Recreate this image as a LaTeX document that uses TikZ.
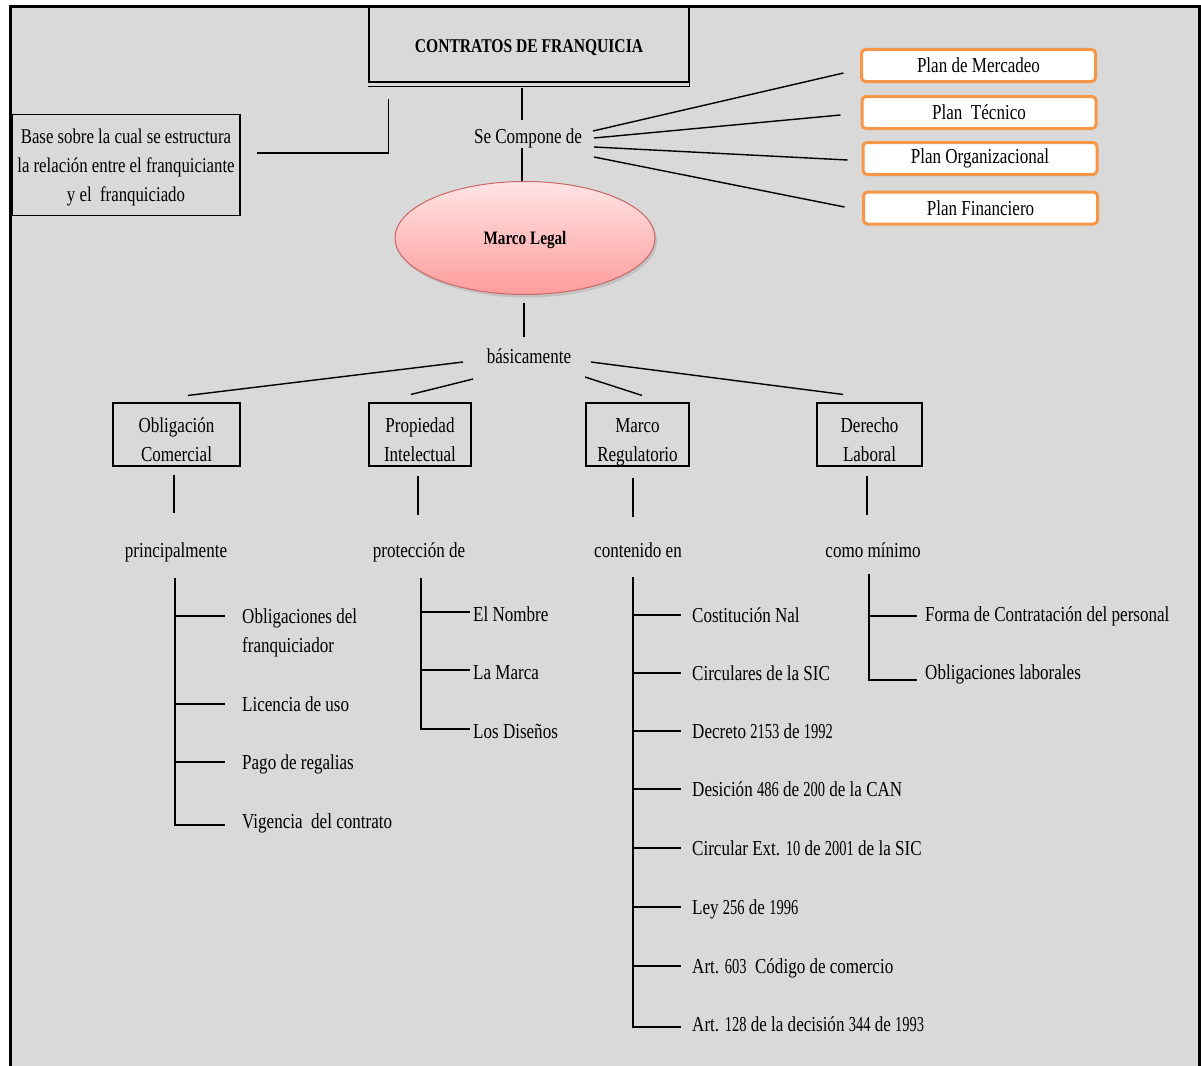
\documentclass[tikz,border=0pt]{standalone}
\usepackage{fontspec}
\setmainfont{Liberation Serif}[FakeStretch=0.8]
\newfontfamily\nf{Liberation Serif}[FakeStretch=0.68]
\usetikzlibrary{shapes.geometric,shadows,calc}
\definecolor{bg}{HTML}{D9D9D9}
\definecolor{orng}{HTML}{F79646}
\definecolor{pinktop}{HTML}{FFE4E4}
\definecolor{pinkbot}{HTML}{FF9C9C}
\definecolor{pinkedge}{HTML}{CC6666}
\newcommand\topstrut[1]{\rule{0pt}{#1}}
\newcommand\botstrut[1]{\rule[-#1]{0pt}{#1}}
\newcommand\num[1]{{\nf #1}}
\begin{document}
\begin{tikzpicture}[x=1pt,y=-1pt,
  every node/.style={inner sep=0pt},
  bodyfont/.style={font=\fontsize{21.3}{29}\selectfont},
  lbl/.style={bodyfont, text height=17pt, text depth=2pt},
  cbox/.style={draw, line width=1.1pt, bodyfont, align=center},
  plan/.style={draw=orng, line width=3pt, rounded corners=4pt, fill=white, minimum width=234pt, minimum height=32pt, bodyfont},
  ln/.style={line width=1.4pt},
  item/.style={lbl, anchor=west},
]
\clip (0,0) rectangle (1201,1065);
\fill[white] (0,0) rectangle (1201,1065);
\fill[bg] (10,7) rectangle (1199,1080);
\draw[line width=3pt] (10,1080) -- (10,7) -- (1199,7) -- (1199,1080);

% title
\node[draw, line width=1.2pt, minimum width=320pt, minimum height=75pt, font=\bfseries\fontsize{19.5}{24}\selectfont] (title) at (529,44.5) {\topstrut{19.5pt}CONTRATOS DE FRANQUICIA};
\draw[line width=1.3pt] ($(title.south west)+(0,4)$) -- ($(title.south east)+(0,4)$) -- (title.south east);

\node[lbl] (comp) at (528,136) {Se Compone de};
\draw[ln] ($(title.south)+(-7,5)$) -- ($(comp.north)+(-6,-6.5)$);

\node[ellipse, draw=pinkedge, line width=1pt, top color=pinktop, bottom color=pinkbot, minimum width=260pt, minimum height=113pt, drop shadow={opacity=0.25, shadow xshift=2pt, shadow yshift=-3pt}, font=\bfseries\fontsize{19}{24}\selectfont] (ml) at (525,238) {\topstrut{17.5pt}Marco Legal};
\draw[ln] ($(comp.south)+(-6,2.5)$) -- ($(ml.north)+(-3,0)$);

\node[lbl] (bas) at (529,356) {básicamente};
\draw[ln] ($(ml.south)+(-1,8)$) -- ($(bas.north)+(-5,-9.5)$);

% base box
\node[cbox, minimum width=228pt, minimum height=101pt, font=\fontsize{21}{29}\selectfont] (base) at (126,165) {\topstrut{20pt}Base sobre la cual se estructura\\la relación entre el franquiciante\\y el\ \ franquiciado\botstrut{5pt}};
\draw[ln] ($(base.east)+(16,-12)$) -| ($(title.south west)+(20,16)$);

% plans
\node[plan] (pm) at (978.5,65.5) {Plan de Mercadeo};
\node[plan] (pt) at (979,112.5) {Plan\ \ Técnico};
\node[plan] (po) at (980,158.5) {Plan Organizacional};
\node[plan] (pf) at (980.5,208) {Plan Financiero};
\draw[ln] ($(comp)+(65,-5)$) -- ($(pm.west)+(-16.5,7.5)$);
\draw[ln] ($(comp)+(66,2)$) -- ($(pt.west)+(-20,2.5)$);
\draw[ln] ($(comp)+(66,11)$) -- ($(po.west)+(-14,1.5)$);
\draw[ln] ($(comp)+(66,21)$) -- ($(pf.west)+(-17.5,-1)$);

% categories
\node[cbox, minimum width=127pt, minimum height=63pt] (ob) at (176.5,434.5) {\topstrut{29pt}Obligación\\Comercial\botstrut{5pt}};
\node[cbox, minimum width=102pt, minimum height=63pt] (pi) at (420,434.5) {\topstrut{29pt}Propiedad\\Intelectual\botstrut{5pt}};
\node[cbox, minimum width=103pt, minimum height=63pt] (mr) at (637.5,434.5) {\topstrut{29pt}Marco\\Regulatorio\botstrut{5pt}};
\node[cbox, minimum width=105pt, minimum height=63pt] (dl) at (869.5,434.5) {\topstrut{29pt}Derecho\\Laboral\botstrut{5pt}};
\draw[ln] ($(bas)+(-66,6)$) -- ($(ob.north)+(11.5,-7)$);
\draw[ln] ($(bas)+(-56,23)$) -- ($(pi.north)+(-9,-8)$);
\draw[ln] ($(bas)+(56,21)$) -- ($(mr.north)+(4.5,-7)$);
\draw[ln] ($(bas)+(62,6)$) -- ($(dl.north)+(-26.5,-8)$);

\node[lbl] (prin) at (176,550) {principalmente};
\node[lbl] (prot) at (419,550) {protección de};
\node[lbl] (cont) at (638,550) {contenido en};
\node[lbl] (comom) at (873,550) {como mínimo};
\draw[ln] ($(ob.south)+(-2.5,8)$) -- ($(prin.north)+(-2,-27.5)$);
\draw[ln] ($(pi.south)+(-2,9)$) -- ($(prot.north)+(-1,-25.5)$);
\draw[ln] ($(mr.south)+(-4.5,11)$) -- ($(cont.north)+(-5,-23.5)$);
\draw[ln] ($(dl.south)+(-2.5,9)$) -- ($(comom.north)+(-6,-25.5)$);

% branch 1
\node[anchor=north west, align=left, bodyfont] (o1) at (242,609) {Obligaciones del\\franquiciador};
\node[item] (o2) at (242,704) {Licencia de uso};
\node[item] (o3) at (242,762) {Pago de regalias};
\node[item] (o4) at (242,821) {Vigencia\ \ del contrato};
\coordinate (t1) at ($(prin.south)+(-1,18.5)$);
\coordinate (o1t) at ($(o1.north west)+(-17,7)$);
\coordinate (o4t) at ($(o4.west)+(-17,4)$);
\draw[ln] (t1) -- (t1 |- o4t) -- (o4t);
\draw[ln] (t1 |- o1t) -- (o1t);
\draw[ln] (t1 |- o2.west) -- ($(o2.west)+(-17,0)$);
\draw[ln] (t1 |- o3.west) -- ($(o3.west)+(-17,0)$);

% branch 2
\node[item] (n1) at (473,614) {El Nombre};
\node[item] (n2) at (473,672) {La Marca};
\node[item] (n3) at (473,731) {Los Diseños};
\coordinate (t2) at ($(prot.south)+(2,18.5)$);
\draw[ln] (t2) -- (t2 |- {$(n3.west)+(0,-2)$}) -- ($(n3.west)+(-3,-2)$);
\draw[ln] (t2 |- {$(n1.west)+(0,-2)$}) -- ($(n1.west)+(-3,-2)$);
\draw[ln] (t2 |- {$(n2.west)+(0,-2)$}) -- ($(n2.west)+(-3,-2)$);

% branch 3
\node[item] (c1) at (692,615) {Costitución Nal};
\node[item] (c2) at (692,673) {Circulares de la SIC};
\node[item] (c3) at (692,731) {Decreto \num{2153} de \num{1992}};
\node[item] (c4) at (692,789) {Desición \num{486} de \num{200} de la CAN};
\node[item] (c5) at (692,848) {Circular Ext. \num{10} de \num{2001} de la SIC};
\node[item] (c6) at (692,907) {Ley \num{256} de \num{1996}};
\node[item] (c7) at (692,966) {Art. \num{603}\ \ Código de comercio};
\node[item] (c8) at (692,1024) {Art. \num{128} de la decisión \num{344} de \num{1993}};
\coordinate (t3) at ($(cont.south)+(-5,17.5)$);
\draw[ln] (t3) -- (t3 |- {$(c8.west)+(0,3)$}) -- ($(c8.west)+(-11,3)$);
\foreach \c in {c1,c2,c3,c4,c5,c6,c7}
  \draw[ln] (t3 |- \c.west) -- ($(\c.west)+(-11,0)$);

% branch 4
\node[item] (f1) at (925,614) {Forma de Contratación del personal};
\node[item] (f2) at (925,672) {Obligaciones laborales};
\coordinate (t4) at ($(comom.south)+(-4,14.5)$);
\draw[ln] (t4) -- (t4 |- {$(f2.west)+(0,8)$}) -- ($(f2.west)+(-8,8)$);
\draw[ln] (t4 |- {$(f1.west)+(0,2)$}) -- ($(f1.west)+(-8,2)$);
\end{tikzpicture}
\end{document}
